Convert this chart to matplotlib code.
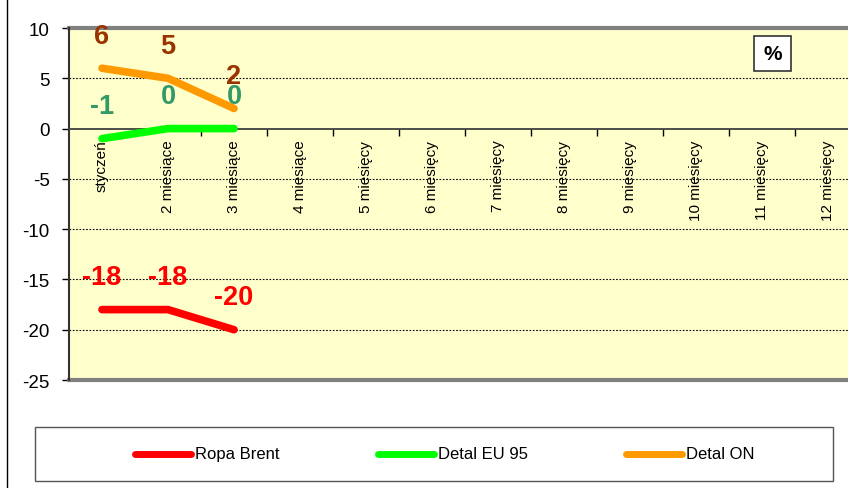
import matplotlib
matplotlib.use("Agg")
import matplotlib.pyplot as plt
from matplotlib.patches import Rectangle
from matplotlib.lines import Line2D

categories = ["styczeń", "2 miesiące", "3 miesiące", "4 miesiące", "5 miesięcy",
              "6 miesięcy", "7 miesięcy", "8 miesięcy", "9 miesięcy",
              "10 miesięcy", "11 miesięcy", "12 miesięcy"]
ropa_brent = [-18, -18, -20]
detal_eu95 = [-1, 0, 0]
detal_on = [6, 5, 2]
series_names = ["Ropa Brent", "Detal EU 95", "Detal ON"]
y_ticks = [10, 5, 0, -5, -10, -15, -20, -25]

plt.rcParams['font.family'] = ['Liberation Sans', 'DejaVu Sans']

W, H = 848, 489
fig = plt.figure(figsize=(W / 100, H / 100), dpi=100)

# axes: plot area from x=69 to 861 (beyond the image), y=29 to 381
ax = fig.add_axes([69 / W, 1 - 381 / H, 792 / W, 352 / H])
ax.set_facecolor("#FFFFCC")
ax.set_xlim(-0.5, 11.5)
ax.set_ylim(-25, 10)

for v in [5, -5, -10, -15, -20]:
    ax.axhline(v, color="black", lw=0.8, ls=(0, (1.5, 1.5)), zorder=1)

x = list(range(len(categories)))
lines_spec = [
    (ropa_brent, "#FF0000", "#FF0000"),
    (detal_eu95, "#00FF00", "#339966"),
    (detal_on, "#FF9900", "#993300"),
]
for vals, col, lcol in lines_spec:
    xs = x[:len(vals)]
    ax.plot(xs, vals, color=col, lw=5.5, solid_capstyle="round",
            solid_joinstyle="round", zorder=3, clip_on=False)
    for xi, v in zip(xs, vals):
        ax.annotate(f"{v}", (xi, v), xytext=(0, 23.5), textcoords="offset points",
                    ha="center", va="center", fontsize=19.5, fontweight="bold",
                    color=lcol, zorder=4)

# spines
for s in ["top", "right"]:
    ax.spines[s].set_visible(False)
ax.spines["left"].set_color("#333333")
ax.spines["left"].set_linewidth(1.5)
ax.spines["bottom"].set_position(("data", 0))
ax.spines["bottom"].set_color("#404040")
ax.spines["bottom"].set_linewidth(1.3)
ax.axhline(10, color="#808080", lw=3, zorder=2, clip_on=False)
ax.axhline(-25, color="#808080", lw=3, zorder=2, clip_on=False)

ax.set_yticks(y_ticks)
ax.set_yticklabels([str(t) for t in y_ticks], fontsize=13.5)
ax.tick_params(axis="y", direction="out", length=5, width=1, pad=9)

ax.set_xticks([i + 0.5 for i in range(11)])
ax.set_xticklabels([])
ax.set_xticks(x, minor=True)
ax.set_xticklabels(categories, minor=True, rotation=90, fontsize=11,
                   va="top", ha="center")
ax.tick_params(axis="x", which="major", direction="out", length=5, width=1)
ax.tick_params(axis="x", which="minor", length=0, pad=8)

# percent box
fig.add_artist(Rectangle((754 / W, 1 - 72 / H), 37 / W, 35 / H,
                         transform=fig.transFigure, fc="white", ec="#333333",
                         lw=1.2, zorder=5))
fig.text(772.5 / W, 1 - 55 / H, "%", ha="center", va="center", fontsize=15,
         fontweight="bold", zorder=6)

# figure left border
fig.add_artist(Line2D([7 / W, 7 / W], [0, 1], transform=fig.transFigure,
                      color="black", lw=1))

# legend box
fig.add_artist(Rectangle((35 / W, 1 - 482 / H), (833 - 35) / W, 54 / H,
                         transform=fig.transFigure, fc="white", ec="#555555",
                         lw=1))
leg_x = [135, 378, 626]
ly = 1 - 455 / H
for (vals, col, lcol), name, lx in zip(lines_spec, series_names, leg_x):
    fig.add_artist(Line2D([lx / W, (lx + 56) / W], [ly, ly],
                          transform=fig.transFigure, color=col, lw=5,
                          solid_capstyle="round"))
    fig.text((lx + 60) / W, ly, name, ha="left", va="center", fontsize=12)

fig.savefig("out.png", dpi=100)
